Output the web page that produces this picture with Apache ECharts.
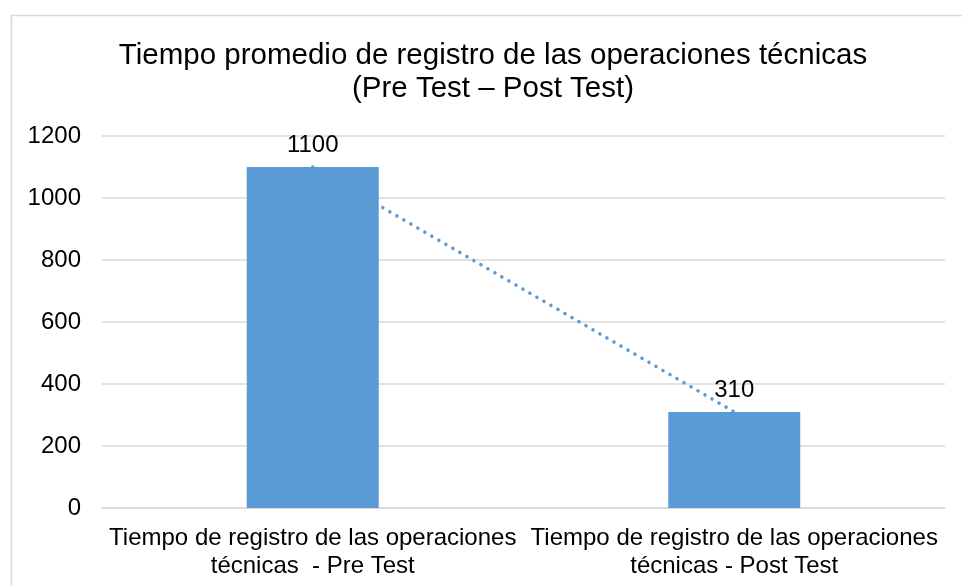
<!DOCTYPE html>
<html>
<head>
<meta charset="utf-8">
<script src="https://cdn.jsdelivr.net/npm/echarts@6/dist/echarts.min.js"></script>
<style>
html,body{margin:0;padding:0;background:#fff;}
#c{width:962px;height:586px;}
</style>
</head>
<body>
<div id="c"></div>
<script>
var categories = [
  'Tiempo de registro de las operaciones\ntécnicas  - Pre Test',
  'Tiempo de registro de las operaciones\ntécnicas - Post Test'
];
var values = [1100, 310];
var titleText = 'Tiempo promedio de registro de las operaciones técnicas\n(Pre Test – Post Test)';

var chart = echarts.init(document.getElementById('c'));
chart.setOption({
  animation: false,
  backgroundColor: '#fff',
  graphic: [{
    type: 'rect',
    shape: {x: 11.5, y: 15.5, width: 1000, height: 1000},
    style: {fill: 'none', stroke: '#d9d9d9', lineWidth: 1.5},
    silent: true, z: -1
  }],
  title: {
    text: titleText,
    left: 493,
    textAlign: 'center',
    top: 39,
    padding: 0,
    textStyle: {
      fontFamily: 'Liberation Sans, Arial, sans-serif',
      fontSize: 29.5,
      fontWeight: 'normal',
      color: '#000',
      lineHeight: 33
    }
  },
  grid: {left: 102, right: 17, top: 136, bottom: 78, containLabel: false},
  xAxis: {
    type: 'category',
    data: categories,
    axisLine: {lineStyle: {color: '#d9d9d9', width: 1.5}},
    axisTick: {show: false},
    axisLabel: {
      interval: 0,
      margin: 16,
      fontFamily: 'Liberation Sans, Arial, sans-serif',
      fontSize: 24,
      lineHeight: 28,
      color: '#000'
    }
  },
  yAxis: {
    type: 'value',
    min: 0, max: 1200, interval: 200,
    axisLine: {show: false},
    axisTick: {show: false},
    splitLine: {lineStyle: {color: '#d9d9d9', width: 1.5}},
    axisLabel: {
      margin: 21,
      formatter: function (v) { return String(v); },
      fontFamily: 'Liberation Sans, Arial, sans-serif',
      fontSize: 24,
      color: '#000'
    }
  },
  series: [
    {
      type: 'line',
      data: values,
      z: 1,
      symbol: 'none',
      lineStyle: {color: '#5B9BD5', width: 3.5, type: [0.1, 8], cap: 'round'}
    },
    {
      type: 'bar',
      data: values,
      z: 3,
      barWidth: 132,
      itemStyle: {color: '#5B9BD5'},
      label: {
        show: true,
        position: 'top',
        distance: 10,
        fontFamily: 'Liberation Sans, Arial, sans-serif',
        fontSize: 24,
        color: '#000'
      }
    }
  ]
});
</script>
</body>
</html>
